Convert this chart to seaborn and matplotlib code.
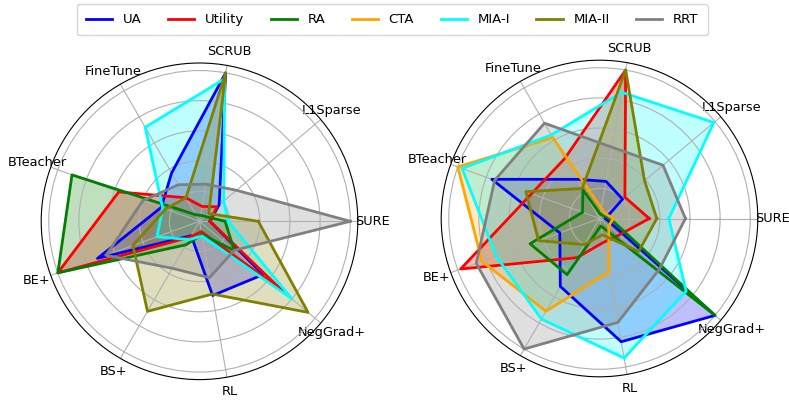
import numpy as np
import pandas as pd
import matplotlib
matplotlib.use("Agg")
import matplotlib.pyplot as plt
from matplotlib.lines import Line2D
import seaborn as sns

# Radar axes (unlearning methods), counter-clockwise from the right
methods = ["SURE", "L1Sparse", "SCRUB", "FineTune", "BTeacher", "BE+", "BS+", "RL", "NegGrad+"]
metrics = ["UA", "Utility", "RA", "CTA", "MIA-I", "MIA-II", "RRT"]
colors = ["blue", "red", "green", "orange", "cyan", "olive", "gray"]

# Left panel: normalised scores per method
left_ua      = [0.07, 0.17, 1.00, 0.37, 0.27, 0.72, 0.11, 0.50, 0.55]
left_utility = [0.07, 0.15, 0.10, 0.18, 0.57, 1.00, 0.12, 0.07, 0.72]
left_ra      = [0.17, 0.05, 0.04, 0.05, 0.90, 1.00, 0.18, 0.09, 0.30]
left_cta     = [0.00, 0.00, 0.00, 0.00, 0.00, 0.00, 0.00, 0.00, 0.00]
left_mia1    = [0.19, 0.21, 0.96, 0.72, 0.26, 0.30, 0.14, 0.10, 0.80]
left_mia2    = [0.39, 0.08, 1.00, 0.18, 0.24, 0.47, 0.69, 0.49, 0.94]
left_rrt     = [1.00, 0.32, 0.25, 0.28, 0.40, 0.66, 0.36, 0.38, 0.30]

# Right panel: normalised scores per method
right_ua      = [0.04, 0.20, 0.25, 0.30, 0.76, 0.28, 0.52, 0.83, 1.00]
right_utility = [0.33, 0.22, 1.00, 0.46, 0.48, 0.98, 0.30, 0.16, 0.17]
right_ra      = [0.07, 0.03, 0.03, 0.22, 0.12, 0.49, 0.43, 0.05, 1.00]
right_cta     = [0.09, 0.05, 0.07, 0.62, 1.00, 0.83, 0.71, 0.36, 0.08]
right_mia1    = [0.46, 0.99, 0.85, 0.64, 0.97, 0.73, 0.77, 0.94, 0.75]
right_mia2    = [0.38, 0.39, 1.00, 0.23, 0.52, 0.43, 0.20, 0.11, 0.34]
right_rrt     = [0.57, 0.55, 0.48, 0.73, 0.74, 0.87, 1.00, 0.70, 0.52]

left_panel = [left_ua, left_utility, left_ra, left_cta, left_mia1, left_mia2, left_rrt]
right_panel = [right_ua, right_utility, right_ra, right_cta, right_mia1, right_mia2, right_rrt]

angles = np.linspace(0, 2 * np.pi, len(methods), endpoint=False)


def draw_radar(ax, panel):
    for name, values, color in zip(metrics, panel, colors):
        df = pd.DataFrame({
            "theta": np.append(angles, angles[0]),
            "score": list(values) + [values[0]],
        })
        sns.lineplot(data=df, x="theta", y="score", sort=False, estimator=None,
                     color=color, linewidth=2, ax=ax, legend=False)
        ax.fill(df["theta"], df["score"], color=color, alpha=0.25, linewidth=0)
    ax.set_xticks(angles)
    ax.set_xticklabels(methods, fontsize=9.3)
    ax.tick_params(axis="x", pad=0)
    ax.set_yticks([0.2, 0.4, 0.6, 0.8, 1.0])
    ax.set_yticklabels([])
    ax.set_ylim(0, 1.05)
    ax.set_xlabel("")
    ax.set_ylabel("")
    ax.grid(True)


W, H = 789, 400
fig = plt.figure(figsize=(W / 100, H / 100), dpi=100)

radius = 158.3
for cx, cy, panel in [(199.5, 221.3, left_panel), (599.5, 218.5, right_panel)]:
    ax = fig.add_axes([(cx - radius) / W, (H - cy - radius) / H,
                       2 * radius / W, 2 * radius / H], projection="polar")
    draw_radar(ax, panel)

handles = [Line2D([0], [0], color=c, linewidth=2) for c in colors]
fig.legend(handles, metrics, loc="upper center", ncol=7, fontsize=9.5,
           borderpad=0.7, borderaxespad=0.3, bbox_to_anchor=(0.497, 1.0))

fig.savefig("out.png", dpi=100)
